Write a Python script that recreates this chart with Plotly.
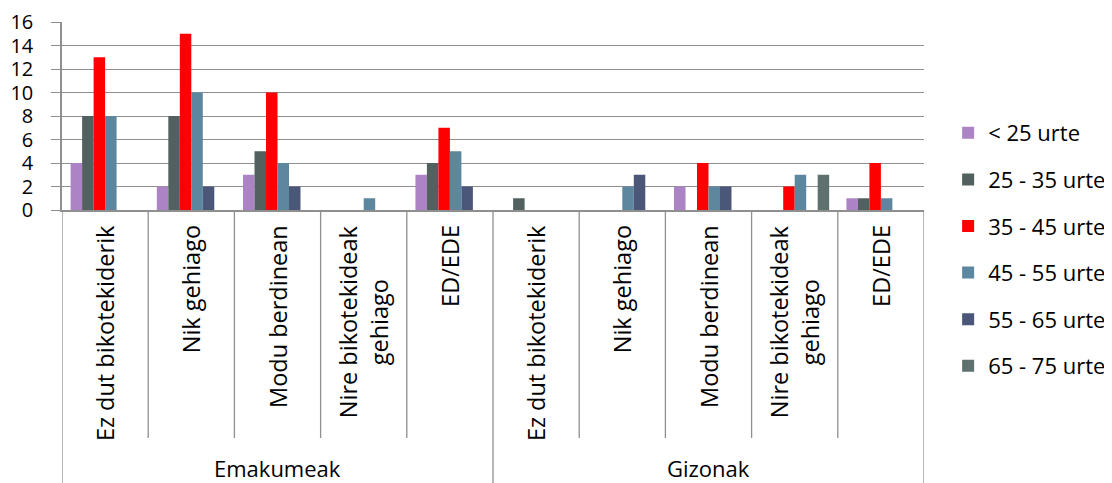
import plotly.graph_objects as go

groups = ["Emakumeak", "Gizonak"]
answers = ["Ez dut bikotekiderik", "Nik gehiago", "Modu berdinean",
           "Nire bikotekideak<br>gehiago", "ED/EDE"]
series_names = ["< 25 urte", "25 - 35 urte", "35 - 45 urte",
                "45 - 55 urte", "55 - 65 urte", "65 - 75 urte"]
colors = ["#AC83C5", "#526060", "#FF0000", "#5D879F", "#4A5778", "#5F716E"]

# values per series: 5 Emakumeak answers then 5 Gizonak answers
v_lt25 = [4, 2, 3, 0, 3, 0, 0, 2, 0, 1]
v_25_35 = [8, 8, 5, 0, 4, 1, 0, 0, 0, 1]
v_35_45 = [13, 15, 10, 0, 7, 0, 0, 4, 2, 4]
v_45_55 = [8, 10, 4, 1, 5, 0, 2, 2, 3, 1]
v_55_65 = [0, 2, 2, 0, 2, 0, 3, 2, 0, 0]
v_65_75 = [0, 0, 0, 0, 0, 0, 0, 0, 3, 0]
values = [v_lt25, v_25_35, v_35_45, v_45_55, v_55_65, v_65_75]

xkeys = [f"{g}|{a}" for g in groups for a in answers]

FONT = "Open Sans"
FS = 22
GRID = "#8f8f8f"

fig = go.Figure()
for name, col, vals in zip(series_names, colors, values):
    fig.add_trace(go.Bar(x=xkeys, y=vals, name=name, marker_color=col,
                         marker_line_width=0, legendgroup=name))

# the page body adds an 8px offset; figure coordinates below are page px - 8
OFF = 8
top_px, bot_px, fig_h, fig_w = 22, 210, 483, 1112
plot_h = bot_px - top_px


def py(p):
    return (bot_px - p) / plot_h


shapes = []
n = len(xkeys)
for i in range(n + 1):
    outer = (i % len(answers) == 0)
    shapes.append(dict(type="line", xref="x", yref="paper",
                       x0=i - 0.5, x1=i - 0.5, y0=0,
                       y1=py(483 if outer else 438),
                       line=dict(color=GRID, width=1.3)))

annotations = []
for i, k in enumerate(xkeys):
    a = k.split("|")[1]
    annotations.append(dict(x=k, xref="x", y=py(223), yref="paper",
                            text=a, textangle=-90, showarrow=False,
                            xanchor="center", yanchor="top", align="center",
                            font=dict(family=FONT, size=23.5, color="black")))
for gi, g in enumerate(groups):
    center = gi * len(answers) + (len(answers) - 1) / 2
    annotations.append(dict(x=center, xref="x", y=py(468), yref="paper",
                            text=g, showarrow=False, xanchor="center",
                            yanchor="middle",
                            font=dict(family=FONT, size=FS, color="black")))

fig.update_layout(
    width=fig_w - OFF, height=fig_h - OFF,
    margin=dict(l=62 - OFF, r=188, t=top_px - OFF, b=fig_h - bot_px, pad=0,
                autoexpand=False),
    paper_bgcolor="white", plot_bgcolor="white",
    barmode="group", bargap=0.2, bargroupgap=0,
    font=dict(family=FONT, size=FS, color="black"),
    xaxis=dict(type="category", showticklabels=False, showgrid=False,
               showline=True, linecolor=GRID, linewidth=1.5, ticks="",
               range=[-0.5, n - 0.5]),
    yaxis=dict(range=[0, 16], dtick=2, showgrid=True, gridcolor=GRID,
               gridwidth=1.3, zeroline=False, showline=True, linecolor=GRID,
               linewidth=1.5, ticks="outside", ticklen=9, tickcolor=GRID,
               ticklabelstandoff=14,
               tickfont=dict(family=FONT, size=20, color="black")),
    legend=dict(x=1.028, xanchor="left", y=py(112), yanchor="top",
                maxheight=460, tracegroupgap=15,
                font=dict(family=FONT, size=FS, color="black"),
                bgcolor="rgba(0,0,0,0)"),
    shapes=shapes, annotations=annotations,
)

fig.write_html("out.html")
